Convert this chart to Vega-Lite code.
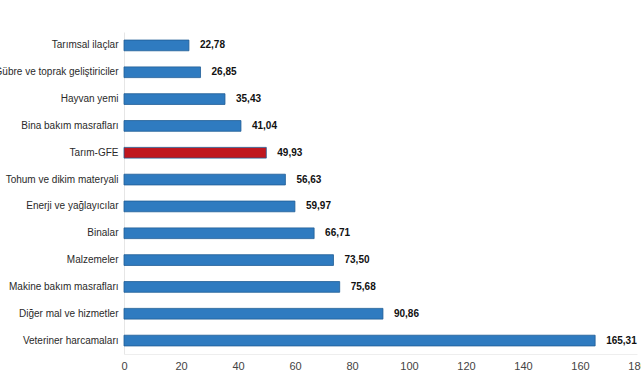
{
  "$schema": "https://vega.github.io/schema/vega-lite/v6.json",
  "width": 513,
  "height": 322,
  "autosize": {"type": "none"},
  "padding": {"left": 124, "top": 32, "right": 4, "bottom": 26},
  "background": "white",
  "config": {
    "locale": {"number": {"decimal": ",", "thousands": ".", "grouping": [3], "currency": ["", ""]}},
    "view": {"stroke": null},
    "font": "Liberation Sans"
  },
  "data": {
    "values": [
      {"kalem": "Tarımsal ilaçlar", "deger": 22.78, "tur": "b"},
      {"kalem": "Gübre ve toprak geliştiriciler", "deger": 26.85, "tur": "b"},
      {"kalem": "Hayvan yemi", "deger": 35.43, "tur": "b"},
      {"kalem": "Bina bakım masrafları", "deger": 41.04, "tur": "b"},
      {"kalem": "Tarım-GFE", "deger": 49.93, "tur": "r"},
      {"kalem": "Tohum ve dikim materyali", "deger": 56.63, "tur": "b"},
      {"kalem": "Enerji  ve yağlayıcılar", "deger": 59.97, "tur": "b"},
      {"kalem": "Binalar", "deger": 66.71, "tur": "b"},
      {"kalem": "Malzemeler", "deger": 73.50, "tur": "b"},
      {"kalem": "Makine bakım masrafları", "deger": 75.68, "tur": "b"},
      {"kalem": "Diğer mal ve hizmetler", "deger": 90.86, "tur": "b"},
      {"kalem": "Veteriner harcamaları", "deger": 165.31, "tur": "b"}
    ]
  },
  "encoding": {
    "y": {
      "field": "kalem", "type": "nominal", "sort": null,
      "scale": {"paddingInner": 0.6, "paddingOuter": 0.3},
      "axis": {"title": null, "ticks": false, "domain": true, "domainColor": "#e6e6e6", "labelColor": "#2a2a2a", "labelFontSize": 10, "labelPadding": 6, "labelLimit": 300}
    },
    "x": {
      "field": "deger", "type": "quantitative",
      "scale": {"domain": [0, 180], "nice": false},
      "axis": {"title": null, "values": [0,20,40,60,80,100,120,140,160,180], "grid": false, "ticks": false, "domain": true, "domainColor": "#eeeeee", "labelColor": "#444444", "labelFontSize": 11, "labelPadding": 6, "labelFlush": false, "labelOverlap": false, "format": "d"}
    }
  },
  "layer": [
    {
      "mark": {"type": "bar", "stroke": "#1f5d96", "strokeWidth": 0.8},
      "encoding": {
        "color": {"field": "tur", "type": "nominal", "scale": {"domain": ["b", "r"], "range": ["#2f7bc0", "#c0171f"]}, "legend": null}
      }
    },
    {
      "mark": {"type": "text", "align": "left", "dx": 11, "fontSize": 10, "fontWeight": "bold", "color": "#111111"},
      "encoding": {"text": {"field": "deger", "type": "quantitative", "format": ".2f"}}
    }
  ]
}
